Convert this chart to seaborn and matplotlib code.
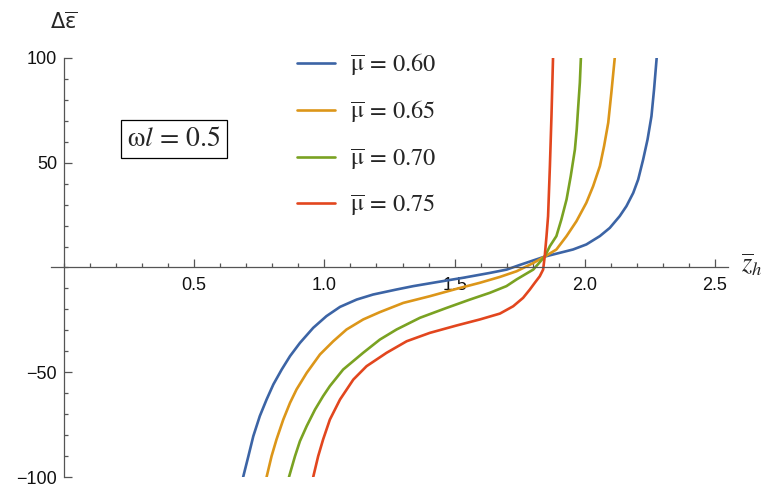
import numpy as np
import pandas as pd
import seaborn as sns
import matplotlib.pyplot as plt
from matplotlib.ticker import MultipleLocator, FixedLocator
from matplotlib.font_manager import FontProperties

mu_labels = ['0.60', '0.65', '0.70', '0.75']

z_060 = [0.688, 0.708, 0.727, 0.752, 0.778, 0.804, 0.836, 0.868, 0.906, 0.957, 1.008, 1.060,
         1.124, 1.187, 1.277, 1.341, 1.431, 1.533, 1.635, 1.700, 1.750, 1.846, 1.904, 1.955,
         2.006, 2.058, 2.096, 2.134, 2.160, 2.186, 2.205, 2.224, 2.241, 2.256, 2.266, 2.276]
e_060 = [-100, -90.1, -80.5, -70.9, -63.0, -55.8, -48.7, -42.3, -36.0, -28.8, -23.2, -18.8,
         -15.3, -12.9, -10.5, -8.9, -7.0, -4.9, -2.6, -1.0, 1.2, 5.2, 7.0, 8.6,
         11.0, 15.0, 18.9, 24.5, 29.3, 35.6, 42.0, 51.5, 61.1, 72.2, 85.0, 100]

z_065 = [0.778, 0.797, 0.816, 0.842, 0.868, 0.893, 0.932, 0.983, 1.034, 1.085, 1.149, 1.213,
         1.303, 1.405, 1.507, 1.597, 1.674, 1.738, 1.800, 1.846, 1.891, 1.930, 1.968, 2.006,
         2.032, 2.058, 2.074, 2.090, 2.102, 2.115]
e_065 = [-100, -90.1, -82.1, -72.6, -64.6, -58.2, -50.3, -41.5, -35.2, -29.6, -24.8, -21.3,
         -16.9, -13.7, -10.2, -7.3, -4.5, -1.8, 2.0, 5.2, 8.6, 15.0, 22.1, 30.9,
         38.8, 48.4, 57.9, 69.1, 83.4, 100]

z_070 = [0.864, 0.887, 0.906, 0.932, 0.964, 0.995, 1.021, 1.072, 1.149, 1.213, 1.277, 1.367,
         1.469, 1.559, 1.635, 1.699, 1.738, 1.776, 1.802, 1.846, 1.866, 1.891, 1.910, 1.930,
         1.946, 1.962, 1.969, 1.974, 1.981, 1.985]
e_070 = [-100, -90.1, -82.9, -75.7, -67.8, -61.4, -56.6, -48.7, -40.7, -34.4, -29.6, -24.0,
         -19.3, -15.3, -12.1, -8.9, -5.7, -2.9, -1.0, 5.2, 10.2, 15.0, 22.9, 32.5,
         43.6, 56.3, 65.9, 75.4, 88.2, 100]

z_075 = [0.957, 0.976, 0.995, 1.021, 1.060, 1.111, 1.162, 1.239, 1.316, 1.405, 1.507, 1.597,
         1.674, 1.725, 1.763, 1.789, 1.808, 1.827, 1.840, 1.846, 1.853, 1.859, 1.866, 1.872,
         1.878]
e_075 = [-100, -90.1, -82.1, -72.6, -63.0, -53.5, -47.1, -40.7, -35.2, -31.2, -27.7, -24.8,
         -22.0, -18.5, -14.5, -10.5, -7.3, -4.2, -1.0, 5.2, 15.0, 24.5, 48.4, 72.2,
         100]

x_ticks = [0.5, 1.0, 1.5, 2.0, 2.5]
y_ticks = [-100, -50, 50, 100]

colors = ['#3c64a5', '#dc9619', '#7aa222', '#e2461e']

frames = []
for lab, z, e in zip(mu_labels, [z_060, z_065, z_070, z_075], [e_060, e_065, e_070, e_075]):
    frames.append(pd.DataFrame({'z': z, 'e': e, 'mu': r'$\overline{\mathrm{\mu}}\, =\, ' + lab + '$'}))
df = pd.concat(frames, ignore_index=True)

sns.set_style('white')
plt.rcParams['font.family'] = ['Liberation Sans', 'DejaVu Sans']

fig = plt.figure(figsize=(7.69, 4.91), dpi=100)
ax = fig.add_axes([0.0663, 0.0285, 0.8804, 0.8534])

sns.lineplot(data=df, x='z', y='e', hue='mu', palette=colors, sort=False,
             estimator=None, linewidth=1.9, ax=ax)

ax.set_xlim(-0.05, 2.55)
ax.set_ylim(-100, 100)

# Mathematica style axes through origin
for s in ['top', 'right']:
    ax.spines[s].set_visible(False)
ax.spines['left'].set_position(('data', 0))
ax.spines['bottom'].set_position(('data', 0))
for s in ['left', 'bottom']:
    ax.spines[s].set_color('#555555')
    ax.spines[s].set_linewidth(0.9)

ax.xaxis.set_major_locator(FixedLocator(x_ticks))
ax.xaxis.set_minor_locator(MultipleLocator(0.1))
ax.yaxis.set_major_locator(FixedLocator(y_ticks))
ax.yaxis.set_minor_locator(MultipleLocator(10))
ax.set_xticklabels(['%.1f' % v for v in x_ticks])
ax.set_yticklabels(['\u2212100', '\u221250', '50', '100'])
ax.tick_params(which='both', direction='in', color='#555555', width=0.9,
               bottom=True, left=True, labelsize=13, labelcolor='#111111')
ax.tick_params(which='major', length=5.5, pad=5)
ax.tick_params(axis='x', which='major', pad=7)
ax.tick_params(which='minor', length=3)
ax.set_xlabel('')
ax.set_ylabel('')

leg_font = FontProperties(size=17.5, math_fontfamily='stix')
ax.legend(loc='upper left', bbox_to_anchor=(297 / 769, 1 - 52 / 491),
          bbox_transform=fig.transFigure, frameon=False, prop=leg_font,
          handlelength=1.55, handletextpad=0.65, labelspacing=0.88, borderpad=0,
          borderaxespad=0)

fig.text(174 / 769, 1 - 139 / 491, r'$\mathrm{\omega}\mathit{l}\, =\, 0.5$', fontsize=20,
         math_fontfamily='stix', ha='center', va='center',
         bbox=dict(boxstyle='square,pad=0.22', fc='white', ec='black', lw=0.9))

fig.text(64 / 769, 1 - 22 / 491, r'$\Delta\overline{\mathrm{\varepsilon}}$', fontsize=15,
         math_fontfamily='dejavusans', ha='center', va='center')
fig.text(752 / 769, 1 - 265 / 491, r'$\overline{z}_h$', fontsize=19,
         math_fontfamily='stix', ha='center', va='center')

fig.savefig('out.png', dpi=100)
